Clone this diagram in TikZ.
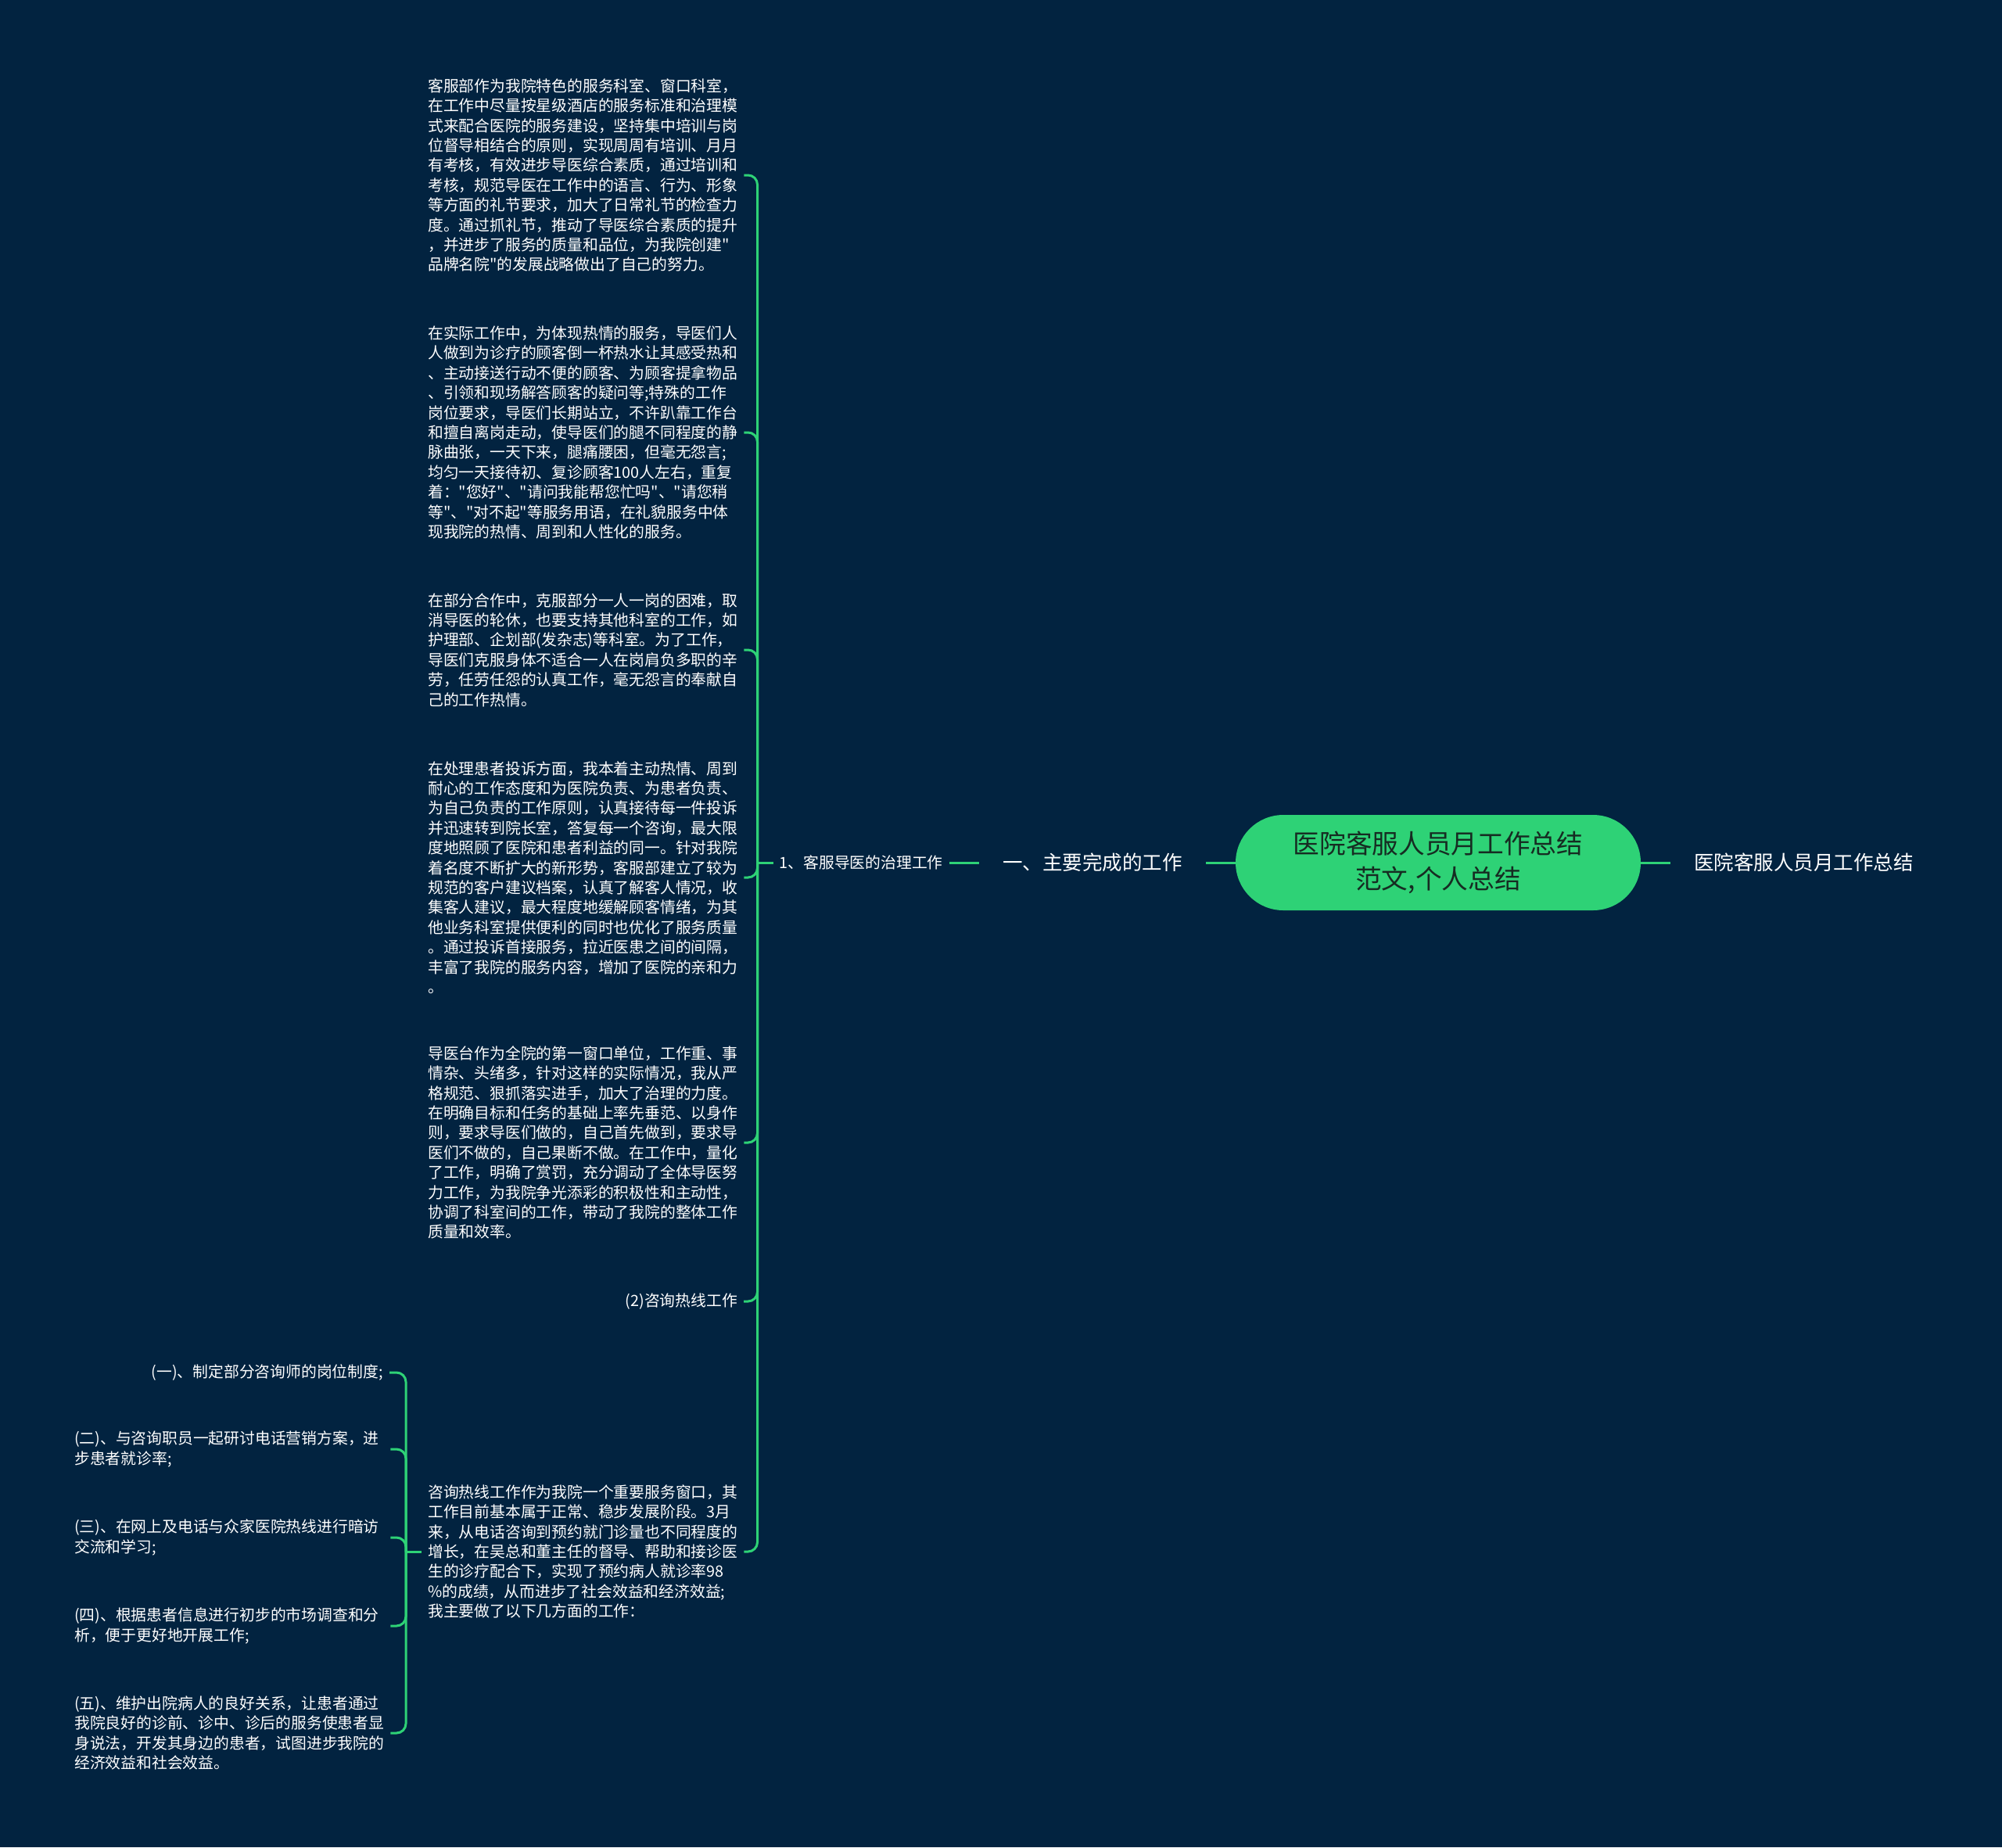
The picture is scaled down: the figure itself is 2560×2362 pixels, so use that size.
\documentclass[tikz,border=0pt]{standalone}
\usepackage{fontspec}
\setmainfont{Noto Sans CJK SC}
\newfontfamily\cjkfont{Noto Sans CJK SC}
\usepackage{xcolor}
\definecolor{bgnavy}{RGB}{2, 35, 64}
\definecolor{mapgreen}{RGB}{46, 210, 118}
\definecolor{rootink}{RGB}{22, 44, 34}
\usepackage{tikz}
\usetikzlibrary{positioning}

\begin{document}
\begin{tikzpicture}[x=1pt, y=-1pt, node distance=38pt,
        root/.style={rectangle, fill=mapgreen, rounded corners=61pt, minimum width=518pt, minimum height=122pt, align=center, text=rootink, font=\cjkfont\fontsize{33.7pt}{45.7pt}\selectfont},
        topic/.style={inner xsep=30pt, inner ysep=4pt, text=white, font=\cjkfont\fontsize{25.5pt}{30pt}\selectfont},
        sub/.style={inner xsep=8pt, inner ysep=2pt, text=white, font=\cjkfont\fontsize{19.8pt}{25.4pt}\selectfont},
        para/.style={sub, anchor=west, text width=396pt, align=left},
        link/.style={draw=mapgreen, line width=3pt, rounded corners=12pt}]

        \fill[bgnavy] (0,0) rectangle (2560,2362);
        \useasboundingbox (0,0) rectangle (2560,2362);

        % Centro
        \node [root] (root) at (1839,1103) {医院客服人员月工作总结\\范文,个人总结};
        \node [topic, right=of root] (sumr) {医院客服人员月工作总结};
        \node [topic, left=of root] (main) {一、主要完成的工作};
        \node [sub, left=of main] (guide) {1、客服导医的治理工作};
        \coordinate [left=20pt of guide.west] (busA);

        % Rama 1、
        \node [para] (p1) at (539,224) {客服部作为我院特色的服务科室、窗口科室，\\在工作中尽量按星级酒店的服务标准和治理模\\式来配合医院的服务建设，坚持集中培训与岗\\位督导相结合的原则，实现周周有培训、月月\\有考核，有效进步导医综合素质，通过培训和\\考核，规范导医在工作中的语言、行为、形象\\等方面的礼节要求，加大了日常礼节的检查力\\度。通过抓礼节，推动了导医综合素质的提升\\，并进步了服务的质量和品位，为我院创建"\\品牌名院"的发展战略做出了自己的努力。};
        \node [para] (p2) at (539,553) {在实际工作中，为体现热情的服务，导医们人\\人做到为诊疗的顾客倒一杯热水让其感受热和\\、主动接送行动不便的顾客、为顾客提拿物品\\、引领和现场解答顾客的疑问等;特殊的工作\\岗位要求，导医们长期站立，不许趴靠工作台\\和擅自离岗走动，使导医们的腿不同程度的静\\脉曲张，一天下来，腿痛腰困，但毫无怨言;\\均匀一天接待初、复诊顾客100人左右，重复\\着："您好"、"请问我能帮您忙吗"、"请您稍\\等"、"对不起"等服务用语，在礼貌服务中体\\现我院的热情、周到和人性化的服务。};
        \node [para] (p3) at (539,831) {在部分合作中，克服部分一人一岗的困难，取\\消导医的轮休，也要支持其他科室的工作，如\\护理部、企划部(发杂志)等科室。为了工作，\\导医们克服身体不适合一人在岗肩负多职的辛\\劳，任劳任怨的认真工作，毫无怨言的奉献自\\己的工作热情。};
        \node [para] (p4) at (539,1122) {在处理患者投诉方面，我本着主动热情、周到\\耐心的工作态度和为医院负责、为患者负责、\\为自己负责的工作原则，认真接待每一件投诉\\并迅速转到院长室，答复每一个咨询，最大限\\度地照顾了医院和患者利益的同一。针对我院\\着名度不断扩大的新形势，客服部建立了较为\\规范的客户建议档案，认真了解客人情况，收\\集客人建议，最大程度地缓解顾客情绪，为其\\他业务科室提供便利的同时也优化了服务质量\\。通过投诉首接服务，拉近医患之间的间隔，\\丰富了我院的服务内容，增加了医院的亲和力\\。};
        \node [para] (p5) at (539,1461) {导医台作为全院的第一窗口单位，工作重、事\\情杂、头绪多，针对这样的实际情况，我从严\\格规范、狠抓落实进手，加大了治理的力度。\\在明确目标和任务的基础上率先垂范、以身作\\则，要求导医们做的，自己首先做到，要求导\\医们不做的，自己果断不做。在工作中，量化\\了工作，明确了赏罚，充分调动了全体导医努\\力工作，为我院争光添彩的积极性和主动性，\\协调了科室间的工作，带动了我院的整体工作\\质量和效率。};
        \node [sub, anchor=east] (hotline) at (951,1664) {(2)咨询热线工作};
        \node [para] (p6) at (539,1984) {咨询热线工作作为我院一个重要服务窗口，其\\工作目前基本属于正常、稳步发展阶段。3月\\来，从电话咨询到预约就门诊量也不同程度的\\增长，在吴总和董主任的督导、帮助和接诊医\\生的诊疗配合下，实现了预约病人就诊率98\\\%的成绩，从而进步了社会效益和经济效益;\\我主要做了以下几方面的工作：};
        \coordinate [left=20pt of p6.west] (busB);

        % Rama咨询热线
        \node [sub, anchor=east] (q1) at (498,1755) {(一)、制定部分咨询师的岗位制度;};
        \node [para] (q2) at (87,1853) {(二)、与咨询职员一起研讨电话营销方案，进\\步患者就诊率;};
        \node [para] (q3) at (87,1966) {(三)、在网上及电话与众家医院热线进行暗访\\交流和学习;};
        \node [para] (q4) at (87,2079) {(四)、根据患者信息进行初步的市场调查和分\\析，便于更好地开展工作;};
        \node [para] (q5) at (87,2216) {(五)、维护出院病人的良好关系，让患者通过\\我院良好的诊前、诊中、诊后的服务使患者显\\身说法，开发其身边的患者，试图进步我院的\\经济效益和社会效益。};

        \path [link] (root) -- (sumr);
        \path [link] (root) -- (main);
        \path [link] (main) -- (guide);
        \path [link] (guide.west) -- (busA);
        \foreach \kid in {p1, p2, p3, p4, p5, hotline, p6}
            \path [link] (busA) |- (\kid.east);
        \path [link] (p6.west) -- (busB);
        \foreach \kid in {q1, q2, q3, q4, q5}
            \path [link] (busB) |- (\kid.east);
    \end{tikzpicture}
\end{document}
